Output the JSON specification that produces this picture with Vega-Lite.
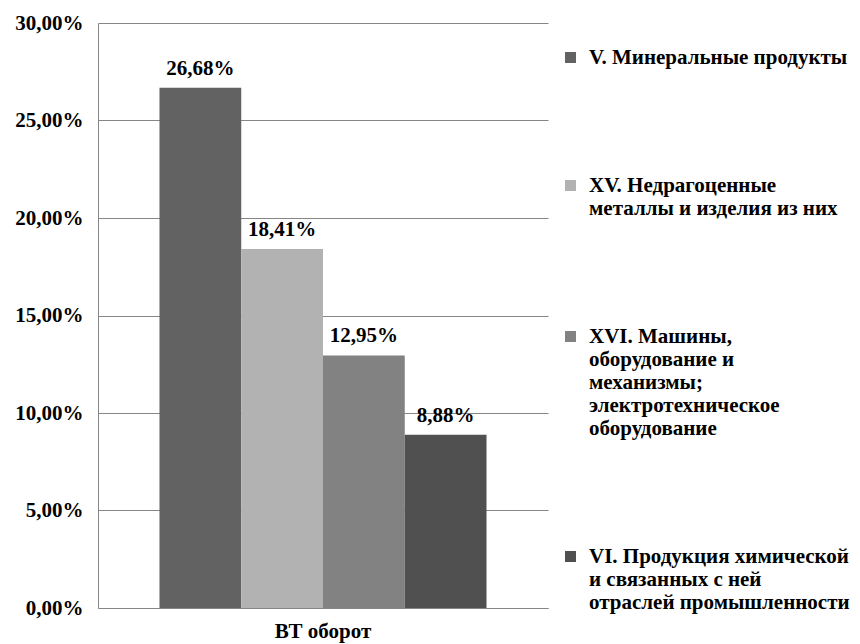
{
  "$schema": "https://vega.github.io/schema/vega-lite/v6.json",
  "width": 450,
  "height": 585,
  "autosize": "none",
  "padding": {"left": 98, "top": 23, "right": 312, "bottom": 36},
  "background": "white",
  "config": {
    "view": {"stroke": null},
    "font": "Liberation Serif",
    "locale": {"number": {"decimal": ",", "thousands": " ", "grouping": [3], "currency": ["", " ₽"]}}
  },
  "data": {
    "values": [
      {"group": "ВТ оборот", "category": "V. Минеральные продукты", "share": 0.2668},
      {"group": "ВТ оборот", "category": "XV. Недрагоценные\nметаллы и изделия из них", "share": 0.1841},
      {"group": "ВТ оборот", "category": "XVI. Машины,\nоборудование и\nмеханизмы;\nэлектротехническое\nоборудование", "share": 0.1295},
      {"group": "ВТ оборот", "category": "VI. Продукция химической\nи связанных с ней\nотраслей промышленности", "share": 0.0888}
    ]
  },
  "encoding": {
    "x": {
      "field": "group",
      "type": "nominal",
      "scale": {"paddingInner": 0, "paddingOuter": 0.188},
      "axis": {
        "title": null,
        "labelAngle": 0,
        "ticks": false,
        "domainColor": "#868686",
        "labelPadding": 12,
        "labelFont": "Liberation Serif",
        "labelFontSize": 21,
        "labelFontWeight": "bold",
        "labelColor": "#000000"
      }
    },
    "xOffset": {"field": "category", "type": "nominal", "sort": null, "scale": {"paddingInner": 0, "paddingOuter": 0}},
    "y": {
      "field": "share",
      "type": "quantitative",
      "scale": {"domain": [0, 0.3]},
      "axis": {
        "title": null,
        "values": [0, 0.05, 0.1, 0.15, 0.2, 0.25, 0.3],
        "format": ".2%",
        "grid": true,
        "gridColor": "#868686",
        "domainColor": "#868686",
        "ticks": false,
        "labelPadding": 15,
        "labelFont": "Liberation Serif",
        "labelFontSize": 21,
        "labelFontWeight": "bold",
        "labelColor": "#000000"
      }
    }
  },
  "layer": [
    {
      "mark": {"type": "bar"},
      "encoding": {
        "color": {
          "field": "category",
          "type": "nominal",
          "sort": null,
          "scale": {"range": ["#626262", "#b2b2b2", "#828282", "#505050"]},
          "legend": {
            "title": null,
            "orient": "none",
            "legendX": 462,
            "legendY": 24,
            "padding": 0,
            "symbolType": "square",
            "symbolSize": 121,
            "symbolStrokeWidth": 0,
            "labelOffset": 8,
            "labelFont": "Liberation Serif",
            "labelFontSize": 21,
            "labelFontWeight": "bold",
            "labelColor": "#000000",
            "labelLimit": 320,
            "rowPadding": 106,
            "labelExpr": "split(datum.label, '\\n')"
          }
        }
      }
    },
    {
      "mark": {"type": "text", "baseline": "alphabetic", "dy": -13, "font": "Liberation Serif", "fontSize": 21, "fontWeight": "bold", "color": "#000000"},
      "encoding": {
        "text": {"field": "share", "type": "quantitative", "format": ".2%"}
      }
    }
  ]
}
